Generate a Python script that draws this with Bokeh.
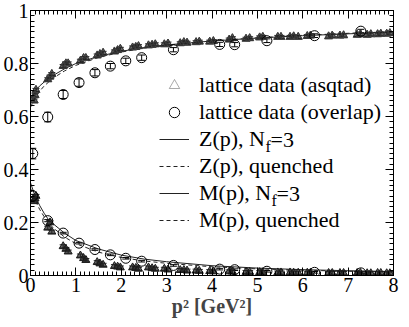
from bokeh.plotting import figure
from bokeh.models import (Range1d, LinearAxis, FixedTicker, Legend, LegendItem,
                          Label, Whisker, TeeHead, ColumnDataSource)
from bokeh.embed import file_html
from bokeh.resources import INLINE

# ---------------- data ----------------
# fit curves
p2_fit = [0, 0.1, 0.2, 0.3, 0.4, 0.5, 0.75, 1, 1.5, 2, 2.5, 3, 4, 5, 6, 7, 8]
z_nf3 = [0.665, 0.695, 0.715, 0.73, 0.745, 0.755, 0.78, 0.8, 0.827, 0.846, 0.86, 0.87, 0.885, 0.896, 0.905, 0.912, 0.918]
z_qu = [0.635, 0.67, 0.695, 0.715, 0.73, 0.745, 0.772, 0.793, 0.823, 0.843, 0.858, 0.869, 0.885, 0.897, 0.906, 0.914, 0.92]
m_nf3 = [0.35, 0.30, 0.265, 0.235, 0.21, 0.195, 0.16, 0.132, 0.10, 0.077, 0.062, 0.052, 0.037, 0.028, 0.022, 0.018, 0.015]
m_qu = [0.33, 0.285, 0.25, 0.222, 0.198, 0.18, 0.145, 0.12, 0.088, 0.068, 0.055, 0.046, 0.033, 0.025, 0.02, 0.016, 0.013]

# lattice data (asqtad)
p2_asq = [0.08, 0.10, 0.12, 0.38, 0.43, 0.47, 0.72, 0.78, 0.83, 1.10, 1.17, 1.22,
          1.47, 1.53, 1.60, 1.85, 1.92, 1.98, 2.25, 2.32, 2.38, 2.60, 2.68, 2.75,
          2.95, 3.03, 3.30, 3.38, 3.45, 3.65, 3.72, 3.95, 4.03, 4.38, 4.45, 4.75,
          4.83, 5.05, 5.12, 5.45, 5.52, 5.72, 5.80, 5.90, 6.10, 6.17, 6.57, 6.65,
          6.82, 6.90, 7.20, 7.27, 7.42, 7.50, 7.65, 7.72, 7.85, 7.92]
z_asq = [0.66, 0.68, 0.70, 0.74, 0.75, 0.76, 0.79, 0.80, 0.80, 0.81, 0.82, 0.82,
         0.83, 0.835, 0.84, 0.845, 0.85, 0.855, 0.86, 0.862, 0.865, 0.868, 0.87, 0.872,
         0.872, 0.875, 0.876, 0.88, 0.878, 0.88, 0.882, 0.882, 0.884, 0.89, 0.895, 0.893,
         0.895, 0.898, 0.90, 0.90, 0.90, 0.90, 0.902, 0.90, 0.903, 0.905, 0.902, 0.905,
         0.905, 0.906, 0.908, 0.91, 0.908, 0.91, 0.91, 0.912, 0.912, 0.914]
m_asq = [0.28, 0.29, 0.30, 0.18, 0.20, 0.165, 0.11, 0.10, 0.09, 0.075, 0.065, 0.058,
         0.05, 0.045, 0.04, 0.035, 0.033, 0.03, 0.03, 0.028, 0.025, 0.03, 0.027, 0.025,
         0.025, 0.022, 0.02, 0.02, 0.018, 0.018, 0.017, 0.016, 0.015, 0.015, 0.014, 0.013,
         0.013, 0.012, 0.012, 0.011, 0.011, 0.011, 0.01, 0.01, 0.01, 0.01, 0.009, 0.009,
         0.009, 0.009, 0.009, 0.009, 0.008, 0.008, 0.009, 0.009, 0.008, 0.008]
asq_err = 0.006

# lattice data (overlap)
p2_ov = [0.05, 0.38, 0.72, 1.07, 1.42, 1.76, 2.10, 2.45, 3.15, 4.17, 4.50, 5.21, 6.26, 7.28]
z_ov = [0.46, 0.598, 0.683, 0.728, 0.765, 0.79, 0.81, 0.822, 0.852, 0.872, 0.871, 0.886, 0.905, 0.922]
z_ov_err = [0.02, 0.018, 0.015, 0.014, 0.012, 0.01, 0.01, 0.01, 0.008, 0.008, 0.008, 0.007, 0.007, 0.007]
m_ov = [0.30, 0.207, 0.16, 0.122, 0.098, 0.078, 0.065, 0.054, 0.038, 0.024, 0.022, 0.016, 0.012, 0.01]
m_ov_err = [0.006, 0.004, 0.003, 0.003, 0.003, 0.003, 0.003, 0.003, 0.003, 0.003, 0.003, 0.003, 0.003, 0.003]

x_ticks = [0, 1, 2, 3, 4, 5, 6, 7, 8]
x_tick_labels = ["0", "1", "2", "3", "4", "5", "6", "7", "8"]
y_ticks = [0, 0.2, 0.4, 0.6, 0.8, 1.0]
y_tick_labels = ["0", "0.2", "0.4", "0.6", "0.8", "1"]

legend_labels = ["lattice data (asqtad)", "lattice data (overlap)", "Z(p), N",
                 "Z(p), quenched", "M(p), N", "M(p), quenched"]

FONT = "Liberation Serif"
INK = "#222222"

# ---------------- figure ----------------
p = figure(width=401, height=319, output_backend="svg", toolbar_location=None,
           x_range=Range1d(0, 8), y_range=Range1d(0, 1),
           min_border_left=4, min_border_right=8, min_border_top=10, min_border_bottom=0)
p.grid.visible = False
p.outline_line_color = "black"
p.background_fill_color = "white"
p.border_fill_color = "white"

x_minor = [i / 10 for i in range(81)]
y_minor = [i / 50 for i in range(51)]

xax = p.xaxis[0]
yax = p.yaxis[0]


def style_axis(ax, ticks, minor, labels, show_labels):
    ax.ticker = FixedTicker(ticks=ticks, minor_ticks=minor)
    ax.axis_line_color = "black"
    ax.major_tick_line_color = "black"
    ax.minor_tick_line_color = "black"
    ax.major_tick_in = 8
    ax.major_tick_out = 0
    ax.minor_tick_in = 4
    ax.minor_tick_out = 0
    ax.major_label_text_font = FONT
    ax.major_label_text_color = "black"
    if show_labels:
        ax.major_label_overrides = {t: l for t, l in zip(ticks, labels)}
        ax.major_label_text_font_size = "20px"
        ax.major_label_standoff = 2
    else:
        ax.major_label_overrides = {t: "" for t in ticks}
        ax.major_label_text_font_size = "1px"
        ax.major_label_standoff = 0


style_axis(xax, x_ticks, x_minor, x_tick_labels, True)
style_axis(yax, y_ticks, y_minor, y_tick_labels, True)
top = LinearAxis()
right = LinearAxis()
style_axis(top, x_ticks, x_minor, x_tick_labels, False)
style_axis(right, y_ticks, y_minor, y_tick_labels, False)
p.add_layout(top, "above")
p.add_layout(right, "right")

xax.axis_label = "p\u00b2 [GeV\u00b2]"
xax.axis_label_text_font = FONT
xax.axis_label_text_font_style = "bold"
xax.axis_label_text_font_size = "20px"
xax.axis_label_standoff = 0

# ---------------- glyphs ----------------
fit = ColumnDataSource(dict(x=p2_fit, zn=z_nf3, zq=z_qu, mn=m_nf3, mq=m_qu))
asq = ColumnDataSource(dict(x=p2_asq, z=z_asq, m=m_asq,
                            zu=[v + asq_err for v in z_asq], zl=[v - asq_err for v in z_asq],
                            mu=[v + asq_err for v in m_asq], ml=[v - asq_err for v in m_asq]))
ov = ColumnDataSource(dict(x=p2_ov, z=z_ov, m=m_ov,
                           zu=[a + b for a, b in zip(z_ov, z_ov_err)],
                           zl=[a - b for a, b in zip(z_ov, z_ov_err)],
                           mu=[a + b for a, b in zip(m_ov, m_ov_err)],
                           ml=[a - b for a, b in zip(m_ov, m_ov_err)]))

r_zn = p.line("x", "zn", source=fit, line_color=INK, line_width=1)
r_zq = p.line("x", "zq", source=fit, line_color=INK, line_width=1, line_dash="4 3")
r_mn = p.line("x", "mn", source=fit, line_color=INK, line_width=1)
r_mq = p.line("x", "mq", source=fit, line_color=INK, line_width=1, line_dash="4 3")

# asqtad triangles with short error bars
for up, lo in (("zu", "zl"), ("mu", "ml")):
    p.add_layout(Whisker(source=asq, base="x", upper=up, lower=lo, line_color="#222222",
                         upper_head=TeeHead(size=7, line_color="#222222"),
                         lower_head=TeeHead(size=7, line_color="#222222")))
for col in ("z", "m"):
    p.scatter("x", col, source=asq, marker="triangle", size=8,
              fill_color="#222222", fill_alpha=0.7, line_color="#1a1a1a", line_width=1)
# open outline pass (also used as the legend glyph)
leg_tri = p.scatter("x", "z", source=asq, marker="triangle", size=8,
                    fill_color=None, line_color="#555555", line_width=1, line_alpha=0.5)

# overlap circles with error bars
for up, lo in (("zu", "zl"), ("mu", "ml")):
    p.add_layout(Whisker(source=ov, base="x", upper=up, lower=lo, line_color="black",
                         upper_head=TeeHead(size=7, line_color="black"),
                         lower_head=TeeHead(size=7, line_color="black")))
r_circ = p.scatter("x", "z", source=ov, marker="circle", size=10,
                   fill_color=None, line_color="black", line_width=1)
p.scatter("x", "m", source=ov, marker="circle", size=10,
          fill_color=None, line_color="black", line_width=1)

# ---------------- legend ----------------
LX, LY, ROW = 129, 42, 26
legend = Legend(items=[LegendItem(label=l, renderers=[r]) for l, r in
                       zip(legend_labels, [leg_tri, r_circ, r_zn, r_zq, r_mn, r_mq])],
                location=(LX, LY), orientation="vertical",
                glyph_width=30, glyph_height=ROW, label_height=ROW, spacing=1,
                label_standoff=10, padding=0, margin=0,
                label_text_font=FONT, label_text_font_size="22px",
                label_text_color="black",
                border_line_color=None, background_fill_alpha=0)
p.add_layout(legend)

# subscripts for N_f=3 entries (screen units relative to frame)
STEP = ROW + 1
text_x0 = LX + 30 + 10
for row, w in ((2, 66), (4, 72)):
    yc = LY + STEP * 6 - 1 - STEP * row - ROW / 2
    p.add_layout(Label(x=text_x0 + w, y=yc - 7, x_units="screen", y_units="screen", text="f",
                       text_font=FONT, text_font_size="16px", text_baseline="middle",
                       text_color="black"))
    p.add_layout(Label(x=text_x0 + w + 5, y=yc, x_units="screen", y_units="screen", text="=3",
                       text_font=FONT, text_font_size="22px", text_baseline="middle",
                       text_color="black"))

open("out.html", "w").write(file_html(p, INLINE))
